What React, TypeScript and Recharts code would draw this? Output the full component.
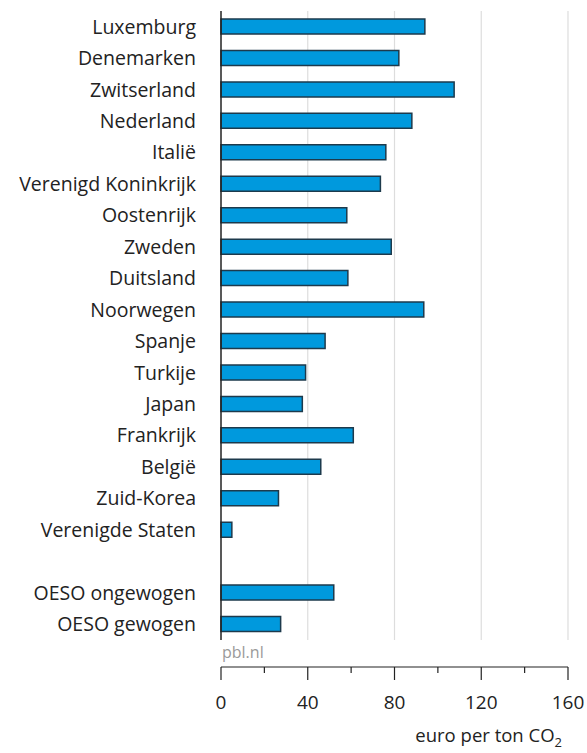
import React from 'react';
import {
  BarChart,
  Bar,
  XAxis,
  YAxis,
  CartesianGrid,
  Label,
} from 'recharts';

const countries: string[] = [
  'Luxemburg',
  'Denemarken',
  'Zwitserland',
  'Nederland',
  'Italië',
  'Verenigd Koninkrijk',
  'Oostenrijk',
  'Zweden',
  'Duitsland',
  'Noorwegen',
  'Spanje',
  'Turkije',
  'Japan',
  'Frankrijk',
  'België',
  'Zuid-Korea',
  'Verenigde Staten',
  ' ',
  'OESO ongewogen',
  'OESO gewogen',
];

// euro per ton CO2
const prices: (number | null)[] = [
  94, 82, 107.5, 88, 76, 73.5, 58, 78.5, 58.5, 93.5, 48, 39, 37.5, 61, 46, 26.5, 5, null, 52, 27.5,
];

const xTicks = [0, 20, 40, 60, 80, 100, 120, 140, 160];
const labelledTicks = [0, 40, 80, 120, 160];
const gridValues = [40, 80, 120, 160];

const data = countries.map((name, i) => ({ name, value: prices[i] }));

const FONT = '"Open Sans", "Noto Sans", sans-serif';
const INK = '#222222';

const XTick = (props: any) => {
  const { x, y, payload } = props;
  const major = labelledTicks.includes(payload.value);
  return (
    <g>
      <line x1={x} x2={x} y1={y} y2={y + (major ? 13 : 6)} stroke={INK} strokeWidth={1.2} />
      {major && (
        <text x={x} y={y + 42} textAnchor="middle" fontSize={19} fill={INK} fontFamily={FONT}>
          {payload.value}
        </text>
      )}
    </g>
  );
};

const AxisNotes = (props: any) => {
  const { x, y, width } = props.viewBox;
  return (
    <g fontFamily={FONT}>
      <text x={x + 1} y={y - 9} fontSize={16} fill="#9a9a9a">
        pbl.nl
      </text>
      <text x={x + width - 6} y={y + 75} textAnchor="end" fontSize={18.5} fill={INK}>
        euro per ton CO
        <tspan fontSize={13} dy={5}>2</tspan>
      </text>
    </g>
  );
};

export default function App() {
  return (
    <div style={{ position: 'absolute', left: 0, top: 0, background: '#fff' }}>
      <BarChart
        width={587}
        height={753}
        data={data}
        layout="vertical"
        margin={{ top: 11, right: 19, bottom: 0, left: 0 }}
      >
        <CartesianGrid
          horizontal={false}
          verticalValues={gridValues}
          stroke="#dddddd"
          strokeWidth={1.2}
          strokeDasharray="629 200"
        />
        <XAxis
          type="number"
          domain={[0, 160]}
          ticks={xTicks}
          interval={0}
          height={86}
          tickSize={0}
          tickMargin={0}
          tickLine={false}
          axisLine={{ stroke: INK, strokeWidth: 1.2 }}
          tick={<XTick />}
        >
          <Label content={<AxisNotes />} />
        </XAxis>
        <YAxis
          type="category"
          dataKey="name"
          width={221}
          padding={{ top: 0, bottom: 27 }}
          tickLine={false}
          tickSize={0}
          tickMargin={25}
          interval={0}
          axisLine={{ stroke: INK, strokeWidth: 1.5, strokeDasharray: '629 200' }}
          tick={{ fontSize: 19.5, fill: INK, fontFamily: FONT }}
        />
        <Bar
          dataKey="value"
          fill="#0099dd"
          stroke="#1d3a4c"
          strokeWidth={1.5}
          barSize={15}
          isAnimationActive={false}
        />
      </BarChart>
    </div>
  );
}
